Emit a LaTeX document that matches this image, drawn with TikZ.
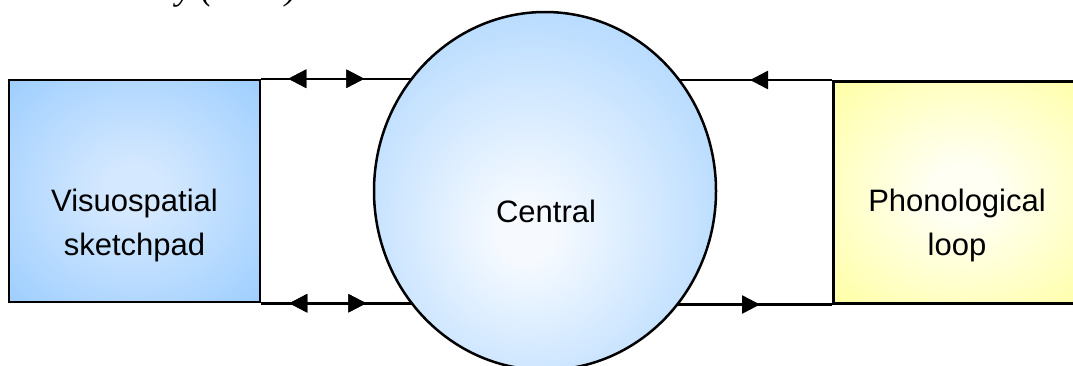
\documentclass[tikz,border=0pt]{standalone}
\usepackage{fontspec}
\setmainfont{Liberation Sans}
\newfontfamily\serifit{Liberation Serif}
\usetikzlibrary{arrows.meta,decorations.markings,shapes.geometric}
\definecolor{boxin}{HTML}{D4E8FF}
\definecolor{boxout}{HTML}{99CCFF}
\definecolor{ellin}{HTML}{F6FAFF}
\definecolor{ellout}{HTML}{99CCFF}
\definecolor{yelin}{HTML}{FFFFF4}
\definecolor{yelout}{HTML}{FFFF99}
\pgfdeclareradialshading{blueboxshade}{\pgfpoint{0bp}{0bp}}{color(0bp)=(boxin); color(6bp)=(boxin); color(38bp)=(boxout); color(80bp)=(boxout)}
\pgfdeclareradialshading{ellshade}{\pgfpoint{-3bp}{-6bp}}{color(0bp)=(ellin); color(4bp)=(ellin); color(42bp)=(ellout); color(80bp)=(ellout)}
\pgfdeclareradialshading{yelshade}{\pgfpoint{0bp}{0bp}}{color(0bp)=(yelin); color(6bp)=(yelin); color(40bp)=(yelout); color(80bp)=(yelout)}
\pgfdeclarelayer{bg}
\pgfsetlayers{bg,main}
\tikzset{
  boxnode/.style={draw=black, line width=2.5pt, rectangle, inner sep=0pt},
  conn/.style={draw=black, line width=2.5pt},
  lbl/.style={font=\fontsize{31}{31}\selectfont, anchor=base, inner sep=0pt},
  tipf/.style={postaction={decorate}, decoration={markings, mark=at position #1 with {\arrow{Triangle[length=18pt,width=18pt]}}}},
  tipb/.style={postaction={decorate}, decoration={markings, mark=at position #1 with {\arrowreversed{Triangle[length=18pt,width=18pt]}}}},
}
\begin{document}
\begin{tikzpicture}[x=1pt,y=-1pt]
\useasboundingbox (0,0) rectangle (1073,365);
% partial title at top (clipped, as in the reference)
\node[font=\serifit\itshape\fontsize{36}{36}\selectfont, anchor=base west, inner sep=0pt] (title) at (176,-1) {y (2000)};
% boxes
\node[boxnode, shading=blueboxshade, minimum width=251pt, minimum height=222pt] (vs) at (134.5,191) {};
\node[boxnode, shading=yelshade, minimum width=260pt, minimum height=222pt, anchor=north west] (pl) at (832,80) {};
\node[draw=black, line width=2.5pt, ellipse, inner sep=0pt, shading=ellshade, minimum width=342pt, minimum height=358pt] (c) at (545,191) {};
% texts
\node[lbl] (vs1) at (134.5,211) {Visuospatial};
\node[lbl] (vs2) at (134.5,255) {sketchpad};
\node[lbl] (ct) at (546,222) {Central};
\node[lbl] (pl1) at (957,211) {Phonological};
\node[lbl] (pl2) at (957,255) {loop};
% connectors
\begin{pgfonlayer}{bg}
\draw[conn, tipb=27pt, tipf=103pt] (vs.north east) -- (c.center |- vs.north east);
\draw[conn, tipb=28pt, tipf=105pt] (vs.south east) -- (c.center |- vs.south east);
\draw[conn, tipb=205pt] (c.center |- pl.north west) -- (pl.north west);
\draw[conn, tipf=215pt] (c.center |- pl.south west) -- (pl.south west);
\end{pgfonlayer}
\end{tikzpicture}
\end{document}
